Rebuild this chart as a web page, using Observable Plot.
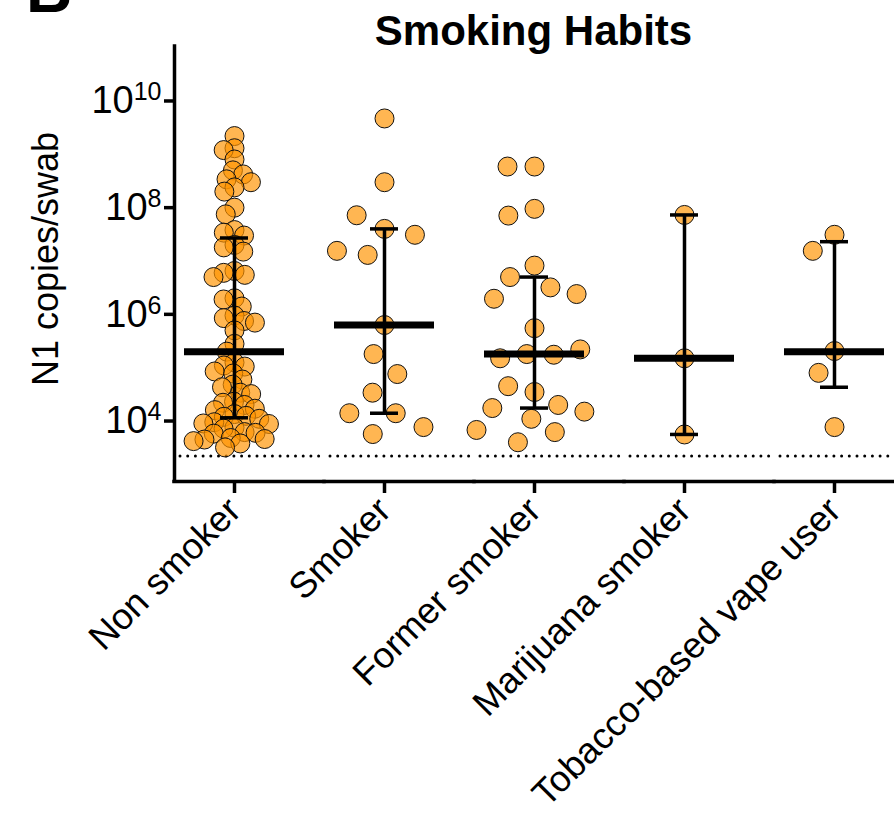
<!DOCTYPE html>
<html><head><meta charset="utf-8">
<script src="https://cdn.jsdelivr.net/npm/d3@7"></script>
<script src="https://cdn.jsdelivr.net/npm/@observablehq/plot@0.6"></script>
<style>
body{margin:0;background:#fff;overflow:hidden}
#wrap{position:relative;width:894px;height:818px;overflow:hidden;font-family:"Liberation Sans",Arial,Helvetica,sans-serif;color:#000}
#chart{position:absolute;left:0;top:0}
#title{position:absolute;left:173px;width:721px;top:10px;text-align:center;font-weight:bold;font-size:42px;line-height:42px}
#panel{position:absolute;left:26px;top:-42px;font-weight:bold;font-size:64px;line-height:64px}
</style></head>
<body>
<div id="wrap"><div id="chart"></div><div id="panel">B</div><div id="title">Smoking Habits</div></div>
<script>
const categories = ["Non smoker", "Smoker", "Former smoker", "Marijuana smoker", "Tobacco-based vape user"];
const nonSmoker = [2.2e9, 1.3e9, 1.2e9, 8.0e8, 5.0e8, 4.2e8, 3.4e8, 3.0e8, 2.4e8, 2.0e8, 1.0e8, 7.5e7, 3.8e7, 3.4e7, 3.0e7, 2.0e7, 1.8e7, 1.5e7, 6.5e6, 6.0e6, 5.5e6, 5.0e6, 2.0e6, 1.9e6, 1.4e6, 9.5e5, 8.5e5, 7.5e5, 7.0e5, 5.0e5, 2.8e5, 2.0e5, 1.25e5, 1.1e5, 1.05e5, 8.5e4, 7.8e4, 6.0e4, 4.8e4, 4.3e4, 3.4e4, 3.2e4, 2.3e4, 2.2e4, 2.0e4, 1.7e4, 1.6e4, 1.35e4, 1.25e4, 1.2e4, 1.1e4, 9.5e3, 9.0e3, 8.8e3, 7.5e3, 7.2e3, 6.2e3, 6.0e3, 5.8e3, 4.8e3, 4.6e3, 4.5e3, 4.2e3, 3.8e3, 3.2e3];
const smoker = [4.7e9, 3.0e8, 4.0e7, 7.2e7, 3.1e7, 1.3e7, 1.55e7, 6.3e5, 1.8e5, 7.6e4, 3.4e4, 1.4e4, 1.4e4, 7.7e3, 5.7e3];
const formerSmoker = [5.9e8, 5.9e8, 9.5e7, 7.1e7, 8.2e6, 5.0e6, 3.2e6, 2.4e6, 1.96e6, 5.5e5, 1.8e5, 1.75e5, 1.5e5, 2.2e5, 3.5e4, 4.5e4, 2.0e4, 1.75e4, 1.5e4, 1.1e4, 6.2e3, 6.8e3, 4.0e3];
const marijuanaSmoker = [7.3e7, 1.5e5, 5.6e3];
const vapeUser = [2.05e5, 8.0e4, 7.7e3, 3.1e7, 1.55e7];
const medians = [2.0e5, 6.3e5, 1.8e5, 1.5e5, 2.0e5];
const q1 = [1.15e4, 1.4e4, 1.75e4, 5.6e3, 4.3e4];
const q3 = [2.7e7, 4.0e7, 5.0e6, 7.3e7, 2.3e7];
const limitOfDetection = 2200;
const yTicks = [1e4, 1e6, 1e8, 1e10];
const yDomain = [735, 1.05e11];
const yLabel = "N1 copies/swab";

const groups = [nonSmoker, smoker, formerSmoker, marijuanaSmoker, vapeUser];
const rows = groups.flatMap((vals, i) => vals.map(v => ({category: categories[i], value: v})));
const stats = categories.map((c, i) => ({category: c, median: medians[i], q1: q1[i], q3: q3[i]}));

const sup = {"0":"⁰","1":"¹","2":"²","3":"³","4":"⁴","5":"⁵","6":"⁶","7":"⁷","8":"⁸","9":"⁹"};
const fmt = d => "10" + String(Math.round(Math.log10(d))).split("").map(c => sup[c]).join("");

const dotStyle = {fx: "category", y: "value", r: 9.5, fill: "#FF9300", fillOpacity: 0.68, stroke: "#111", strokeWidth: 1};

const chart = Plot.plot({
  width: 894, height: 818,
  marginLeft: 173, marginRight: 0, marginTop: 46, marginBottom: 337,
  style: {fontFamily: '"Liberation Sans", Arial, Helvetica, sans-serif', fontSize: "34px", color: "#000", background: "transparent"},
  fx: {domain: categories, paddingInner: 0.2, paddingOuter: 0, label: null},
  x: {domain: [0, 1], axis: null},
  y: {type: "log", domain: yDomain},
  marks: [
    Plot.ruleY([limitOfDetection], {strokeWidth: 3, strokeDasharray: "0,7.7", strokeLinecap: "round", insetLeft: 6, insetRight: -30}),
    Plot.dot(rows.filter(d => d.category === categories[0]), Plot.dodgeX({anchor: "middle", padding: -8}, dotStyle)),
    Plot.dot(rows.filter(d => d.category === categories[1]), Plot.dodgeX({anchor: "middle", padding: 12}, dotStyle)),
    Plot.dot(rows.filter(d => d.category !== categories[0] && d.category !== categories[1]), Plot.dodgeX({anchor: "middle", padding: 8}, dotStyle)),
    Plot.ruleX(stats, {fx: "category", x: null, y1: "q1", y2: "q3", strokeWidth: 3.5}),
    Plot.tickY(stats, {fx: "category", y: "q3", strokeWidth: 3.5, insetLeft: 46, insetRight: 46}),
    Plot.tickY(stats, {fx: "category", y: "q1", strokeWidth: 3.5, insetLeft: 46, insetRight: 46}),
    Plot.tickY(stats, {fx: "category", y: "median", strokeWidth: 7, insetLeft: 10, insetRight: 10}),
    Plot.ruleY([yDomain[0]], {strokeWidth: 3.5, strokeLinecap: "square", insetRight: -30}),
    Plot.ruleX([0], {x: d => d, fx: () => categories[0], strokeWidth: 3.5, strokeLinecap: "square"}),
    Plot.axisY(yTicks, {anchor: "left", tickSize: 10, tickPadding: 3, tickFormat: fmt, fontSize: 38, strokeWidth: 3.5, label: null}),
    Plot.axisFx({anchor: "bottom", tickSize: 12, tickPadding: 11, tickRotate: -45, fontSize: 36.5, strokeWidth: 3.5, label: null}),
    Plot.text([yLabel], {text: d => d, fx: () => categories[0], frameAnchor: "left", textAnchor: "middle", rotate: -90, dx: -128, dy: -5, fontSize: 36})
  ]
});
document.getElementById("chart").appendChild(chart);

// Render the exponent as a raised, smaller tspan (GraphPad-style 10^n labels)
const inv = Object.fromEntries(Object.entries(sup).map(([k, v]) => [v, k]));
chart.querySelectorAll('g[aria-label="y-axis tick label"] text').forEach(t => {
  const s = t.textContent;
  if (!s.startsWith("10")) return;
  const exp = s.slice(2).split("").map(c => inv[c] ?? c).join("");
  t.textContent = "";
  const base = document.createElementNS("http://www.w3.org/2000/svg", "tspan");
  base.textContent = "10";
  const e = document.createElementNS("http://www.w3.org/2000/svg", "tspan");
  e.textContent = exp;
  e.setAttribute("font-size", "25");
  e.setAttribute("dy", "-13");
  t.append(base, e);
});
</script>
</body></html>
